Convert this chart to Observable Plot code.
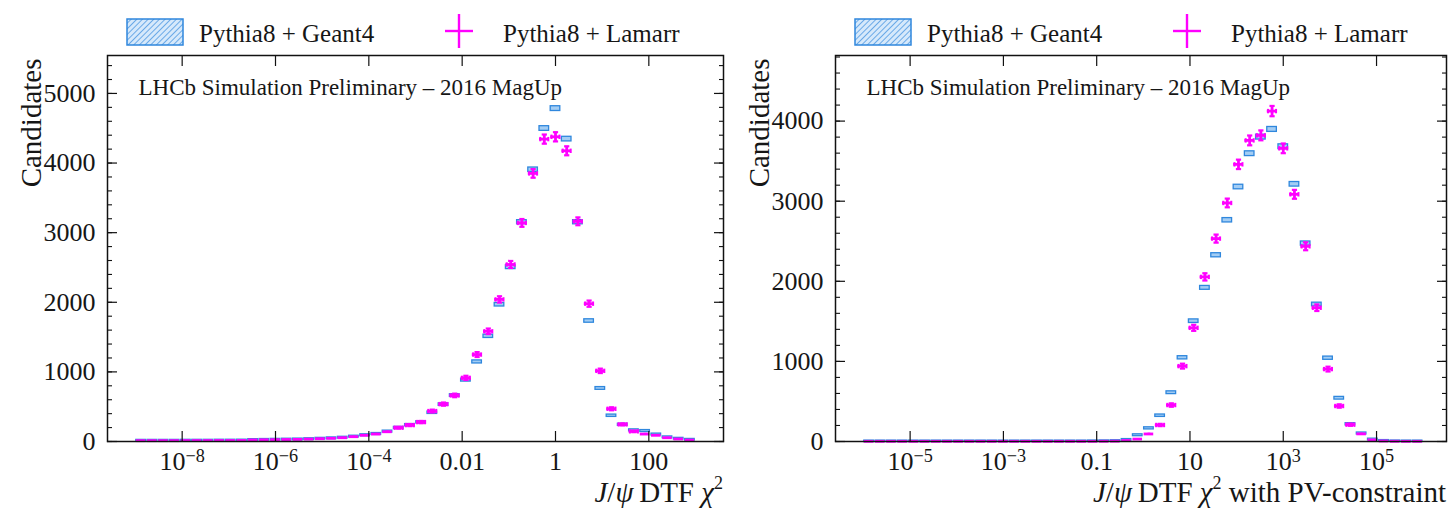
<!DOCTYPE html>
<html>
<head>
<meta charset="utf-8">
<script src="https://cdn.jsdelivr.net/npm/d3@7"></script>
<script src="https://cdn.jsdelivr.net/npm/@observablehq/plot@0.6"></script>
<style>
  html, body { margin: 0; padding: 0; background: #fff; }
  body { font-family: "Liberation Serif", "Times New Roman", serif; color: #161616; }
  #root { position: relative; width: 1453px; height: 515px; overflow: hidden; }
  .plotwrap { position: absolute; top: 0; }
  .plotwrap svg text { font-family: "Liberation Serif", "Times New Roman", serif; }
  .legend-text { position: absolute; font-size: 25px; line-height: 25px; white-space: nowrap; }
  .swatch { position: absolute; }
  .xlab { position: absolute; font-size: 29px; line-height: 29px; white-space: nowrap; text-align: right; }
  .xlab sup { font-size: 0.62em; position: relative; top: -0.15em; vertical-align: super; line-height: 0; }
</style>
</head>
<body>
<div id="root"></div>
<script>
// ---------------- data ----------------
const seriesNames = ["Pythia8 + Geant4", "Pythia8 + Lamarr"];
const panelTitle = "LHCb Simulation Preliminary – 2016 MagUp";
const yLabel = "Candidates";

// Left panel: J/psi DTF chi2, 50 log-spaced bins from 1e-9 to 1e3
const leftRange = [1e-9, 1e3];
const leftGeant4 = [12, 12, 12, 12, 13, 13, 13, 14, 14, 15,
  22, 24, 26, 28, 30, 34, 40, 46,
  55, 70, 90, 108, 142, 195, 235, 275,
  413, 530, 660, 881, 1143, 1511, 1965, 2504, 3150, 3904,
  4496, 4782, 4344, 3150, 1731, 762, 370, 240, 160, 150,
  100, 60, 40, 25];
const leftLamarr = [12, 12, 12, 12, 13, 13, 13, 14, 14, 15,
  22, 24, 26, 28, 30, 34, 40, 46,
  54, 69, 89, 107, 140, 198, 236, 279,
  437, 537, 662, 914, 1249, 1583, 2041, 2543, 3140, 3851,
  4344, 4377, 4176, 3163, 1980, 1015, 470, 246, 146, 107,
  89, 54, 36, 20];
const leftTicks = [1e-8, 1e-6, 1e-4, 1e-2, 1, 100];
const leftTickLabels = ["10^-8", "10^-6", "10^-4", "0.01", "1", "100"];
const leftYMajor = [0, 1000, 2000, 3000, 4000, 5000];

// Right panel: J/psi DTF chi2 with PV constraint, 50 log-spaced bins from 1e-6 to 1e6
const rightRange = [1e-6, 1e6];
const rightGeant4 = [2, 2, 2, 2, 2, 2, 2, 2, 2, 2,
  2, 2, 2, 2, 2, 2, 2, 2, 2, 2,
  3, 4, 6, 20, 78, 164, 322, 609, 1045, 1502,
  1918, 2325, 2762, 3177, 3593, 3800, 3896, 3680, 3211, 2471,
  1710, 1040, 540, 215, 100, 25, 8, 3, 2, 2];
const rightLamarr = [2, 2, 2, 2, 2, 2, 2, 2, 2, 2,
  2, 2, 2, 2, 2, 2, 2, 2, 2, 2,
  2, 3, 4, 12, 30, 94, 206, 455, 941, 1419,
  2055, 2533, 2978, 3460, 3759, 3822, 4125, 3660, 3086, 2437,
  1670, 904, 443, 210, 95, 20, 6, 3, 2, 2];
const rightTicks = [1e-5, 1e-3, 0.1, 10, 1e3, 1e5];
const rightTickLabels = ["10^-5", "10^-3", "0.1", "10", "10^3", "10^5"];
const rightYMajor = [0, 1000, 2000, 3000, 4000];

// ---------------- styling ----------------
const MAGENTA = "#ff00ff";
const BLUE = "#2f87dd";
const BLUE_FILL = "#a3cdf4";
const FONT = "Liberation Serif, Times New Roman, serif";

function makeRows(geant, lamarr, range) {
  const a = Math.log10(range[0]), b = Math.log10(range[1]), n = geant.length;
  return geant.map((g, i) => {
    const lo = 10 ** (a + (b - a) * i / n);
    const hi = 10 ** (a + (b - a) * (i + 1) / n);
    return {lo, hi, mid: Math.sqrt(lo * hi), geant: g, gerr: 0.35 * Math.sqrt(g),
      lamarr: lamarr[i], err: Math.sqrt(lamarr[i])};
  });
}

const hCap = {draw(c) { c.moveTo(-2.6, 0); c.lineTo(2.6, 0); }};
const vCap = {draw(c) { c.moveTo(0, -2.2); c.lineTo(0, 2.2); }};

function buildPanel({rows, xDomain, yMax, yMajor, ticks, tickLabels, width, marginRight}) {
  const fmt = new Map(ticks.map((t, i) => [t, tickLabels[i]]));
  const yMinor = d3.range(0, yMax, 200);
  const big = rows.filter(d => d.err > 12);
  const svg = Plot.plot({
    width, height: 515,
    marginLeft: 107, marginRight, marginTop: 55, marginBottom: 74,
    style: {fontFamily: FONT, color: "#161616", background: "transparent", overflow: "visible"},
    x: {type: "log", domain: xDomain},
    y: {domain: [0, yMax]},
    marks: [
      // Geant4 histogram boxes
      Plot.rect(rows, {x1: "lo", x2: "hi", y1: d => d.geant - d.gerr, y2: d => d.geant + d.gerr,
        insetTop: -0.7, insetBottom: -0.7, insetLeft: 0.8, insetRight: 0.8,
        fill: BLUE_FILL, stroke: BLUE, strokeWidth: 1.3}),
      // Lamarr points with error bars
      Plot.ruleY(rows, {y: "lamarr", x1: "lo", x2: "hi", stroke: MAGENTA, strokeWidth: 2.8, insetLeft: 0.8, insetRight: 0.8}),
      Plot.ruleX(rows, {x: "mid", y1: d => d.lamarr - d.err, y2: d => d.lamarr + d.err, stroke: MAGENTA, strokeWidth: 2.8}),
      Plot.dot(big, {x: "mid", y: d => d.lamarr + d.err, symbol: hCap, stroke: MAGENTA, strokeWidth: 2.2, fill: "none"}),
      Plot.dot(big, {x: "mid", y: d => d.lamarr - d.err, symbol: hCap, stroke: MAGENTA, strokeWidth: 2.2, fill: "none"}),
      Plot.dot(big, {x: "lo", y: "lamarr", dx: 1.6, symbol: vCap, stroke: MAGENTA, strokeWidth: 2, fill: "none"}),
      Plot.dot(big, {x: "hi", y: "lamarr", dx: -1.6, symbol: vCap, stroke: MAGENTA, strokeWidth: 2, fill: "none"}),
      // frame
      Plot.frame({stroke: "#111", strokeWidth: 1.5}),
      // inward ticks on all sides
      Plot.axisX(ticks, {anchor: "bottom", tickSize: -10, fill: "none", stroke: "#111", strokeWidth: 1.2, label: null}),
      Plot.axisX(ticks, {anchor: "top", tickSize: -10, fill: "none", stroke: "#111", strokeWidth: 1.2, label: null}),
      Plot.axisY(yMajor, {anchor: "left", tickSize: -10, fill: "none", stroke: "#111", strokeWidth: 1.2, label: null}),
      Plot.axisY(yMajor, {anchor: "right", tickSize: -10, fill: "none", stroke: "#111", strokeWidth: 1.2, label: null}),
      Plot.axisY(yMinor, {anchor: "left", tickSize: -5, fill: "none", stroke: "#111", strokeWidth: 1.1, label: null}),
      Plot.axisY(yMinor, {anchor: "right", tickSize: -5, fill: "none", stroke: "#111", strokeWidth: 1.1, label: null}),
      // tick labels
      Plot.axisX(ticks, {anchor: "bottom", tickSize: 0, tickPadding: 10, stroke: "none", fill: "#161616",
        fontSize: 26, fontFamily: FONT, label: null, tickFormat: d => fmt.get(d)}),
      Plot.axisY(yMajor, {anchor: "left", tickSize: 0, tickPadding: 12, stroke: "none", fill: "#161616",
        fontSize: 26, fontFamily: FONT, label: null, tickFormat: d3.format("d")}),
      // in-frame title
      Plot.text([panelTitle], {text: d => d, frameAnchor: "top-left", textAnchor: "start", lineAnchor: "bottom",
        dx: 31, dy: 39, fontSize: 23, fontFamily: FONT, fill: "#161616"}),
      // y label, top-aligned and rotated
      Plot.text([yLabel], {text: d => d, frameAnchor: "top-left", rotate: -90, textAnchor: "end", lineAnchor: "bottom",
        dx: -67, dy: 3, fontSize: 29, fontFamily: FONT, fill: "#161616"})
    ]
  });
  // superscripts in tick labels
  svg.querySelectorAll('g[aria-label="x-axis tick label"] text').forEach(t => {
    const m = /^10\^(-?\d+)$/.exec(t.textContent);
    if (!m) return;
    t.textContent = "";
    const base = document.createElementNS("http://www.w3.org/2000/svg", "tspan");
    base.textContent = "10";
    const sup = document.createElementNS("http://www.w3.org/2000/svg", "tspan");
    sup.textContent = m[1].replace("-", "\u2212");
    sup.setAttribute("dy", "-0.45em");
    sup.setAttribute("font-size", "0.7em");
    t.appendChild(base);
    t.appendChild(sup);
  });
  return svg;
}

function legend(root, offset) {
  const ns = "http://www.w3.org/2000/svg";
  const sw = document.createElementNS(ns, "svg");
  sw.setAttribute("class", "swatch");
  sw.setAttribute("width", 58); sw.setAttribute("height", 28);
  sw.style.left = (126 + offset) + "px"; sw.style.top = "18px";
  const pid = "hatch" + offset;
  sw.innerHTML = `<defs><pattern id="${pid}" width="4" height="4" patternUnits="userSpaceOnUse" patternTransform="rotate(45)">
      <rect width="4" height="4" fill="#d6e9fb"/><line x1="0" y1="0" x2="0" y2="4" stroke="${BLUE}" stroke-width="1.3"/></pattern></defs>
    <rect x="1" y="1" width="56" height="26" fill="url(#${pid})" stroke="${BLUE}" stroke-width="1.5"/>`;
  root.appendChild(sw);
  const t1 = document.createElement("div");
  t1.className = "legend-text"; t1.textContent = seriesNames[0];
  t1.style.left = (199 + offset) + "px"; t1.style.top = "21px";
  root.appendChild(t1);
  const cr = document.createElementNS(ns, "svg");
  cr.setAttribute("class", "swatch");
  cr.setAttribute("width", 32); cr.setAttribute("height", 38);
  cr.style.left = (443 + offset) + "px"; cr.style.top = "12px";
  cr.innerHTML = `<line x1="2" y1="19" x2="30" y2="19" stroke="${MAGENTA}" stroke-width="2.4"/>
    <line x1="16" y1="2" x2="16" y2="36" stroke="${MAGENTA}" stroke-width="2.4"/>`;
  root.appendChild(cr);
  const t2 = document.createElement("div");
  t2.className = "legend-text"; t2.textContent = seriesNames[1];
  t2.style.left = (503 + offset) + "px"; t2.style.top = "21px";
  root.appendChild(t2);
}

function xLabel(root, html, rightEdge) {
  const d = document.createElement("div");
  d.className = "xlab";
  d.innerHTML = html;
  d.style.right = (1453 - rightEdge) + "px";
  d.style.top = "478px";
  root.appendChild(d);
}

const root = document.getElementById("root");

const leftWrap = document.createElement("div");
leftWrap.className = "plotwrap"; leftWrap.style.left = "0px";
leftWrap.appendChild(buildPanel({
  rows: makeRows(leftGeant4, leftLamarr, leftRange),
  xDomain: [10 ** -9.6, 10 ** 3.6], yMax: 5545, yMajor: leftYMajor,
  ticks: leftTicks, tickLabels: leftTickLabels, width: 730, marginRight: 7
}));
root.appendChild(leftWrap);

const rightWrap = document.createElement("div");
rightWrap.className = "plotwrap"; rightWrap.style.left = "728px";
rightWrap.appendChild(buildPanel({
  rows: makeRows(rightGeant4, rightLamarr, rightRange),
  xDomain: [10 ** -6.6, 10 ** 6.5], yMax: 4819, yMajor: rightYMajor,
  ticks: rightTicks, tickLabels: rightTickLabels, width: 725, marginRight: 7
}));
root.appendChild(rightWrap);

legend(root, 0);
legend(root, 728);
xLabel(root, "<i>J</i>/<i>ψ</i>&#8201;DTF <i>χ</i><sup>2</sup>", 723);
xLabel(root, "<i>J</i>/<i>ψ</i>&#8201;DTF <i>χ</i><sup>2</sup> with PV-constraint", 1446);
</script>
</body>
</html>
